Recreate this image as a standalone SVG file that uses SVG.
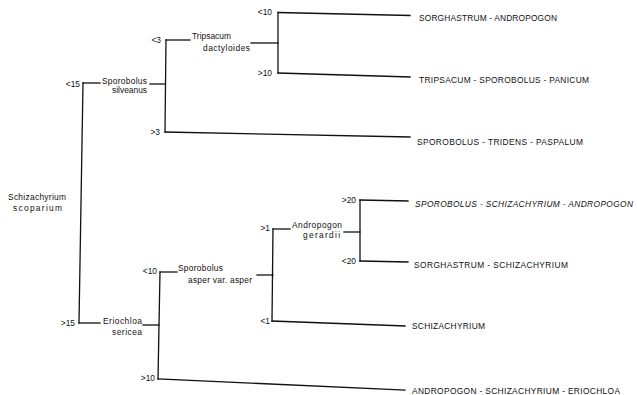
<svg xmlns="http://www.w3.org/2000/svg" width="637" height="395" viewBox="0 0 637 395">
<style>
.bg{fill:#fff}
.c line{stroke:#111;stroke-width:1.3;stroke-linecap:square}
text{font-family:"Liberation Sans",Arial,sans-serif;fill:#111}
.n{font-size:8.4px}
.r{font-size:8.4px}
.k{font-size:8.4px}
.e{text-anchor:end}
.i{font-style:italic}
</style>
<rect class="bg" width="637" height="395"/>
<g id="connectors" class="c">
<line x1="83" y1="83" x2="79" y2="323"/>
<line x1="83" y1="83" x2="100" y2="83"/>
<line x1="79" y1="323" x2="100" y2="323"/>
<line x1="150" y1="84" x2="165" y2="84"/>
<line x1="166" y1="40" x2="165" y2="132"/>
<line x1="166" y1="40" x2="190" y2="40"/>
<line x1="165" y1="132" x2="410" y2="137"/>
<line x1="251" y1="43" x2="278" y2="43"/>
<line x1="278" y1="12.5" x2="278" y2="73"/>
<line x1="278" y1="12.5" x2="410" y2="15.5"/>
<line x1="278" y1="73" x2="410" y2="77"/>
<line x1="143" y1="325" x2="159" y2="325"/>
<line x1="160" y1="272" x2="158" y2="379"/>
<line x1="160" y1="272" x2="177" y2="272"/>
<line x1="158" y1="379" x2="405" y2="390"/>
<line x1="257" y1="275" x2="273" y2="275"/>
<line x1="273" y1="229" x2="272" y2="321"/>
<line x1="273" y1="229" x2="290" y2="229"/>
<line x1="272" y1="321" x2="405" y2="326"/>
<line x1="344" y1="232" x2="360" y2="232"/>
<line x1="360" y1="200" x2="360" y2="261"/>
<line x1="360" y1="200" x2="408" y2="201"/>
<line x1="360" y1="261" x2="408" y2="262"/>
</g>
<g id="connector-labels" class="k">
<text class="e" x="80" y="87">&lt;15</text>
<text class="e" x="75" y="326">&gt;15</text>
<text class="e" x="161" y="43">&lt;3</text>
<text class="e" x="160" y="135">&gt;3</text>
<text class="e" x="272" y="15">&lt;10</text>
<text class="e" x="272" y="76">&gt;10</text>
<text class="e" x="157" y="274">&lt;10</text>
<text class="e" x="155" y="381">&gt;10</text>
<text class="e" x="270" y="231">&gt;1</text>
<text class="e" x="270" y="324">&lt;1</text>
<text class="e" x="356" y="203">&gt;20</text>
<text class="e" x="356" y="264">&lt;20</text>
</g>
<g id="node-schizachyrium-scoparium" class="n">
<text x="8" y="200" textLength="58" lengthAdjust="spacing">Schizachyrium</text>
<text x="13" y="211" textLength="49" lengthAdjust="spacing">scoparium</text>
</g>
<g id="node-sporobolus-silveanus" class="n">
<text x="102" y="84" textLength="45" lengthAdjust="spacing">Sporobolus</text>
<text x="112" y="93" textLength="35" lengthAdjust="spacing">silveanus</text>
</g>
<g id="node-tripsacum-dactyloides" class="n">
<text x="192" y="38.5" textLength="39" lengthAdjust="spacing">Tripsacum</text>
<text x="203" y="51" textLength="47" lengthAdjust="spacing">dactyloides</text>
</g>
<g id="node-eriochloa-sericea" class="n">
<text x="103" y="324" textLength="39" lengthAdjust="spacing">Eriochloa</text>
<text x="112" y="335" textLength="30" lengthAdjust="spacing">sericea</text>
</g>
<g id="node-sporobolus-asper" class="n">
<text x="178" y="271" textLength="45" lengthAdjust="spacing">Sporobolus</text>
<text x="188" y="283" textLength="64" lengthAdjust="spacing">asper var. asper</text>
</g>
<g id="node-andropogon-gerardii" class="n">
<text x="292" y="228" textLength="50" lengthAdjust="spacing">Andropogon</text>
<text x="303" y="238" textLength="37" lengthAdjust="spacing">gerardii</text>
</g>
<g id="leaf-sorghastrum-andropogon" class="r">
<text x="419" y="21" textLength="138" lengthAdjust="spacing">SORGHASTRUM - ANDROPOGON</text>
</g>
<g id="leaf-tripsacum-sporobolus-panicum" class="r">
<text x="419" y="83" textLength="170" lengthAdjust="spacing">TRIPSACUM - SPOROBOLUS - PANICUM</text>
</g>
<g id="leaf-sporobolus-tridens-paspalum" class="r">
<text x="417" y="145" textLength="166" lengthAdjust="spacing">SPOROBOLUS - TRIDENS - PASPALUM</text>
</g>
<g id="leaf-sporobolus-schizachyrium-andropogon" class="r i">
<text x="415" y="207" textLength="218" lengthAdjust="spacing">SPOROBOLUS - SCHIZACHYRIUM - ANDROPOGON</text>
</g>
<g id="leaf-sorghastrum-schizachyrium" class="r">
<text x="414" y="268" textLength="154" lengthAdjust="spacing">SORGHASTRUM - SCHIZACHYRIUM</text>
</g>
<g id="leaf-schizachyrium" class="r">
<text x="412" y="329" textLength="73" lengthAdjust="spacing">SCHIZACHYRIUM</text>
</g>
<g id="leaf-andropogon-schizachyrium-eriochloa" class="r">
<text x="412" y="393.5" textLength="208" lengthAdjust="spacing">ANDROPOGON - SCHIZACHYRIUM - ERIOCHLOA</text>
</g>
</svg>
